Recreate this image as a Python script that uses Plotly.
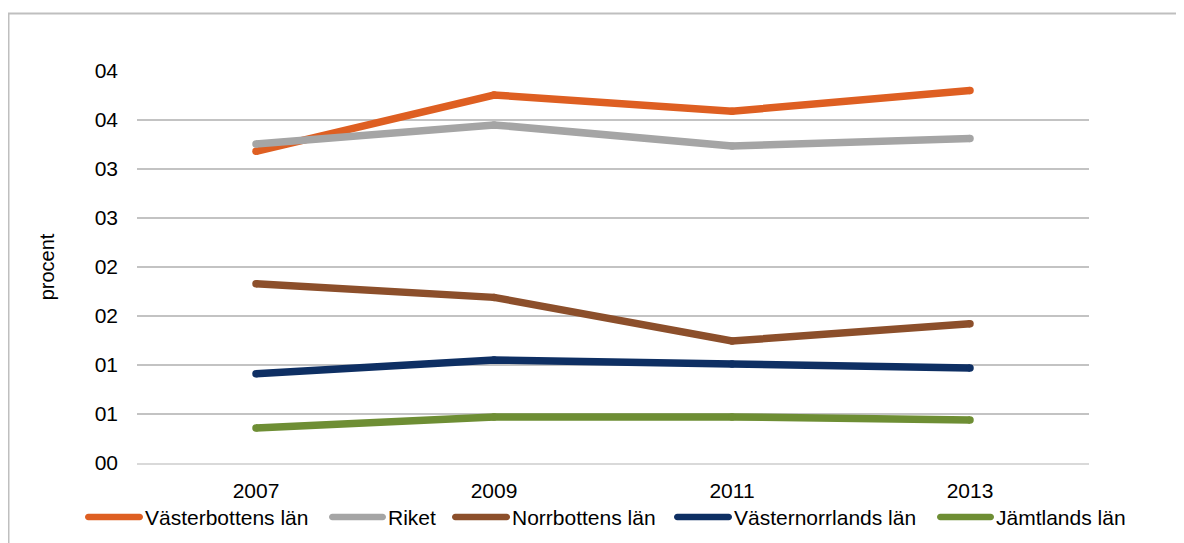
import plotly.graph_objects as go

years = ["2007", "2009", "2011", "2013"]
series_names = ["Västerbottens län", "Riket", "Norrbottens län", "Västernorrlands län", "Jämtlands län"]
vasterbotten = [3.18, 3.755, 3.59, 3.80]
riket = [3.255, 3.45, 3.235, 3.31]
norrbotten = [1.83, 1.69, 1.245, 1.42]
vasternorrland = [0.91, 1.05, 1.01, 0.97]
jamtland = [0.357, 0.47, 0.47, 0.44]
series_values = [vasterbotten, riket, norrbotten, vasternorrland, jamtland]
colors = ["#DE5F22", "#A5A5A5", "#8C4F2B", "#0E2F63", "#6E8E34"]

y_tickvals = [0, 0.5, 1, 1.5, 2, 2.5, 3, 3.5, 4]
y_ticktext = ["00", "01", "01", "02", "02", "03", "03", "04", "04"]

W, H = 1184, 543
OFF = 8  # page body margin
# plot area in screen pixels
L, R, T, B = 137, 1089, 71, 463
pw, ph = R - L, B - T

def px(x):
    return (x - L) / pw

def py(y):
    return (B - y) / ph

fig = go.Figure()
for name, vals, col in zip(series_names, series_values, colors):
    fig.add_trace(go.Scatter(
        x=years, y=vals, name=name, mode="lines+markers",
        line=dict(color=col, width=7.5),
        marker=dict(color=col, size=7.5),
        showlegend=False, hoverinfo="skip",
    ))

font = dict(family="Liberation Sans, Arial, sans-serif", size=21, color="#000000")

# custom legend (line swatches + labels)
leg_y = 517
leg_lines = [(85, 143), (329, 386), (452, 510), (674, 732), (937, 994)]
shapes = []
annotations = []
r = 3.3
k = 1.82
for (x0, x1), name, col in zip(leg_lines, series_names, colors):
    Lp = x1 - x0
    path = (f"M{r},{-r} H{Lp - r} C{Lp - r + k},{-r} {Lp},{-k} {Lp},0 "
            f"C{Lp},{k} {Lp - r + k},{r} {Lp - r},{r} H{r} "
            f"C{r - k},{r} 0,{k} 0,0 C0,{-k} {r - k},{-r} {r},{-r} Z")
    shapes.append(dict(type="path", xref="paper", yref="paper",
                       xsizemode="pixel", ysizemode="pixel",
                       xanchor=px(x0), yanchor=py(leg_y),
                       path=path, fillcolor=col, line=dict(width=0)))
    annotations.append(dict(x=px(x1 + 1), y=py(leg_y), xref="paper", yref="paper",
                            text=name, showarrow=False, xanchor="left", yanchor="middle",
                            font=font, borderpad=0))

# outer chart border
shapes.append(dict(type="rect", xref="paper", yref="paper",
                   x0=px(8.5), x1=px(1195), y0=py(560), y1=py(13.5),
                   line=dict(color="#BFBFBF", width=2), fillcolor="rgba(0,0,0,0)", layer="below"))

fig.update_layout(
    width=W, height=H,
    margin=dict(l=L - OFF, r=W - (R - OFF), t=T - OFF, b=H - (B - OFF), pad=0),
    paper_bgcolor="white", plot_bgcolor="white",
    font=font,
    showlegend=False,
    shapes=shapes,
    annotations=annotations,
    xaxis=dict(type="category", range=[-0.5, 3.5], showgrid=False, ticks="",
               showline=True, linecolor="#D9D9D9", linewidth=2,
               tickfont=font, ticklabelstandoff=8, zeroline=False, fixedrange=True),
    yaxis=dict(range=[0, 4], tickvals=y_tickvals, ticktext=y_ticktext, showgrid=True,
               gridcolor="#C3C3C3", gridwidth=2, zeroline=False, showline=False,
               ticks="", tickfont=font, ticklabelstandoff=18,
               title=dict(text="procent", font=dict(family=font["family"], size=20, color="#000"), standoff=34),
               fixedrange=True),
)

fig.write_html("out.html")
